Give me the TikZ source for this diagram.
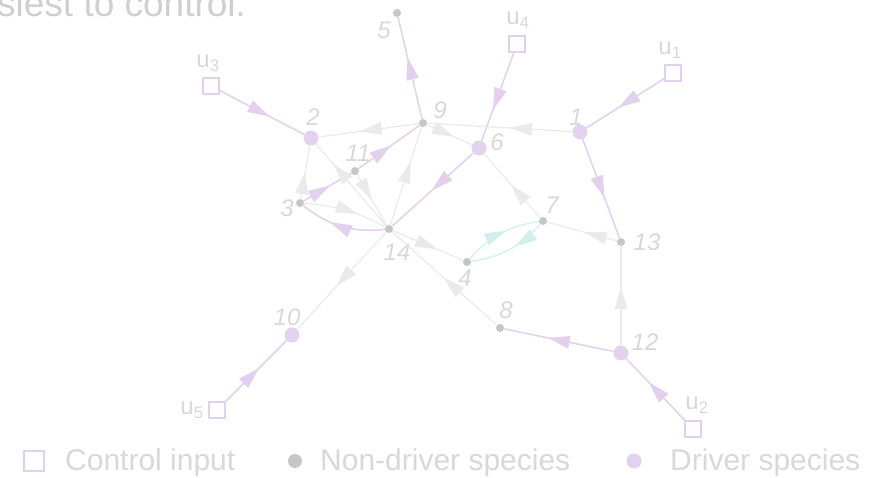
\documentclass[tikz,border=0pt]{standalone}
\usepackage{fontspec}
\setmainfont{Liberation Sans}
\usepackage{xcolor}
\usepackage{tikz}
\usetikzlibrary{arrows.meta,decorations.markings}
\definecolor{drvpurple}{HTML}{E2D2EE}
\definecolor{linkpurple}{HTML}{E3D0EC}
\definecolor{dotgray}{HTML}{C6C6C6}
\definecolor{linkgray}{HTML}{EAEAEA}
\definecolor{linkcyan}{HTML}{D2EFEE}
\definecolor{labelgray}{HTML}{D8D8D8}
\definecolor{topgray}{HTML}{CFCFCF}

\begin{document}
\begin{tikzpicture}[
    x=1pt, y=1pt,
    driver/.style={circle, fill=drvpurple, inner sep=0pt, minimum size=15pt},
    species/.style={circle, fill=dotgray, inner sep=0pt, minimum size=8pt},
    input/.style={rectangle, draw=linkpurple, line width=1.3pt, inner sep=0pt, minimum size=16pt},
    tag/.style={font=\fontsize{24}{26}\selectfont\itshape, text=labelgray, inner sep=0pt},
    utag/.style={font=\fontsize{24}{26}\selectfont, text=labelgray, inner sep=0pt},
    keytext/.style={font=\fontsize{30}{34}\selectfont, text=labelgray, inner sep=0pt, anchor=base west},
    plink/.style={color=linkpurple, line width=1.5pt},
    glink/.style={color=linkgray, line width=1.2pt},
    clink/.style={color=linkcyan, line width=1.2pt},
    midtip/.style={postaction={decorate, decoration={markings,
        mark=at position #1 with {\arrow{Triangle[length=22pt,width=12.5pt]}}}}},
    midtip/.default=0.58
]
\useasboundingbox (0,0) rectangle (888,477);
\clip (0,0) rectangle (888,477);

% Caption (cut off at the top)
\node[anchor=base west, font=\fontsize{37}{40}\selectfont, text=topgray, inner sep=0pt] (caption) at (-3,460) {siest to control.};

% Control inputs
\node[input] (u1) at (673,404) {};
\node[input] (u2) at (693,48) {};
\node[input] (u3) at (211,391) {};
\node[input] (u4) at (517,433) {};
\node[input] (u5) at (217,67) {};

% Driver species
\node[driver] (n1) at (580,345) {};
\node[driver] (n2) at (311,339) {};
\node[driver] (n6) at (479,329) {};
\node[driver] (n10) at (292,142) {};
\node[driver] (n12) at (621,124) {};

% Non-driver species
\node[species] (n3) at (300,274) {};
\node[species] (n4) at (467,215) {};
\node[species] (n5) at (397,464) {};
\node[species] (n7) at (543,256) {};
\node[species] (n8) at (500,149) {};
\node[species] (n9) at (423,354) {};
\node[species] (n11) at (355,306) {};
\node[species] (n13) at (621,235) {};
\node[species] (n14) at (389,248) {};

% Labels
\node[utag] (t-u1) at (670,427) {u\textsubscript{1}};
\node[utag] (t-u2) at (697,72) {u\textsubscript{2}};
\node[utag] (t-u3) at (208,414) {u\textsubscript{3}};
\node[utag] (t-u4) at (518,457) {u\textsubscript{4}};
\node[utag] (t-u5) at (192,67) {u\textsubscript{5}};
\node[tag] (t1) at (576,360) {1};
\node[tag] (t2) at (313,360) {2};
\node[tag] (t3) at (287,269) {3};
\node[tag] (t4) at (465,199) {4};
\node[tag] (t5) at (384,447) {5};
\node[tag] (t6) at (497,335) {6};
\node[tag] (t7) at (552,272) {7};
\node[tag] (t8) at (506,167) {8};
\node[tag] (t9) at (440,367) {9};
\node[tag] (t10) at (287,160) {10};
\node[tag] (t11) at (358,324) {11};
\node[tag] (t12) at (645,135) {12};
\node[tag] (t13) at (647,235) {13};
\node[tag] (t14) at (397,225) {14};

% Inputs into drivers
\draw[plink, midtip=0.59] (u3) -- (n2);
\draw[plink, midtip=0.65] (u4) -- (n6);
\draw[plink, midtip=0.59] (u1) -- (n1);
\draw[plink, midtip=0.62] (u2) -- (n12);
\draw[plink, midtip=0.55] (u5) -- (n10);

% Purple links
\draw[plink, midtip=0.6] (n9) -- (n5);
\draw[plink, midtip=0.59] (n1) -- (n13);
\draw[plink, midtip=0.51] (n6) -- (n14);
\draw[plink, midtip=0.6] (n12) -- (n8);
\draw[plink, midtip=0.55] (n3) -- (n11);
\draw[plink, midtip=0.54] (n11) -- (n9);
\draw[plink, midtip=0.64] (n14) to[bend left=22] (n3);

% Gray links
\draw[glink, midtip=0.59] (n9) -- (n2);
\draw[glink, midtip=0.6] (n9) -- (n6);
\draw[glink, midtip=0.43] (n1) -- (n9);
\draw[glink, midtip=0.52] (n7) -- (n6);
\draw[glink, midtip=0.46] (n13) -- (n7);
\draw[glink, midtip=0.59] (n12) -- (n13);
\draw[glink, midtip=0.51] (n8) -- (n14);
\draw[glink, midtip=0.63] (n14) -- (n4);
\draw[glink, midtip=0.56] (n14) -- (n10);
\draw[glink, midtip=0.65] (n14) -- (n9);
\draw[glink, midtip=0.76] (n14) -- (n2);
\draw[glink, midtip=0.5] (n11) -- (n14);
\draw[glink, midtip=0.5] (n3) -- (n2);
\draw[glink, midtip=0.64] (n3) to[bend left=12] (n14);

% Cyan pair
\draw[clink, midtip=0.58] (n4) to[bend left=20] (n7);
\draw[clink, midtip=0.42] (n7) to[bend left=20] (n4);

% Legend
\node[input, minimum size=20pt] (key-in) at (34,16) {};
\node[keytext] (key-in-text) at (65,7) {Control input};
\node[circle, fill=dotgray, inner sep=0pt, minimum size=14pt] (key-nd) at (295,16) {};
\node[keytext] (key-nd-text) at (320,7) {Non-driver species};
\node[circle, fill=drvpurple, inner sep=0pt, minimum size=15pt] (key-d) at (634,16) {};
\node[keytext] (key-d-text) at (670,7) {Driver species};

\end{tikzpicture}
\end{document}
